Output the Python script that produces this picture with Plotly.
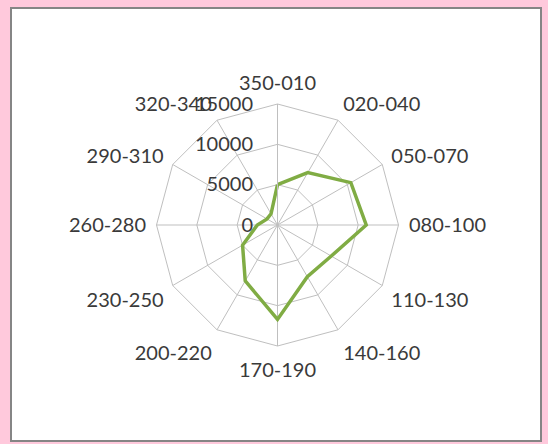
import plotly.graph_objects as go

categories = ["350-010", "020-040", "050-070", "080-100", "110-130", "140-160",
              "170-190", "200-220", "230-250", "260-280", "290-310", "320-340"]
values = [5000, 7500, 10500, 11000, 7700, 7400, 11700, 8000, 5000, 2500, 1500, 1600]
radial_ticks = [0, 5000, 10000, 15000]

W, H = 548, 444
cx, cy, R = 277.5, 225, 121

fig = go.Figure()
fig.add_trace(go.Scatterpolar(
    r=values + values[:1],
    theta=categories + categories[:1],
    mode="lines",
    line=dict(color="#80AC44", width=3.5),
    showlegend=False,
))

font = dict(family="Lato, Carlito, Liberation Sans, sans-serif", size=20, color="#3a3a3a")
grid = "#bfbfbf"

fig.update_layout(
    width=W, height=H,
    margin=dict(l=0, r=0, t=0, b=0, autoexpand=False),
    paper_bgcolor="#FFC9DC",
    plot_bgcolor="white",
    polar=dict(
        domain=dict(x=[(cx - R) / W, (cx + R) / W],
                    y=[(H - cy - R) / H, (H - cy + R) / H]),
        bgcolor="rgba(0,0,0,0)",
        gridshape="linear",
        angularaxis=dict(
            type="category",
            categoryarray=categories,
            direction="clockwise",
            rotation=90,
            showline=True, linecolor=grid, linewidth=1,
            gridcolor=grid, gridwidth=1,
            ticks="outside", ticklen=6, tickcolor="rgba(0,0,0,0)",
            tickfont=font,
        ),
        radialaxis=dict(
            range=[0, 15000],
            tickvals=radial_ticks,
            ticktext=[str(v) for v in radial_ticks],
            angle=90,
            tickangle=90,
            side="counterclockwise",
            showline=True, linecolor=grid, linewidth=1,
            gridcolor=grid, gridwidth=1,
            ticks="outside", ticklen=17, tickcolor="rgba(0,0,0,0)",
            tickfont=font,
        ),
    ),
    shapes=[dict(
        type="rect", xref="paper", yref="paper", layer="below",
        x0=11 / W, x1=541 / W, y0=1 - 441 / H, y1=1 - 8 / H,
        fillcolor="white", line=dict(color="#858585", width=2),
    )],
)

fig.write_html("out.html", config={"displayModeBar": False},
               post_script="document.body.style.margin='0';document.body.style.padding='0';")
